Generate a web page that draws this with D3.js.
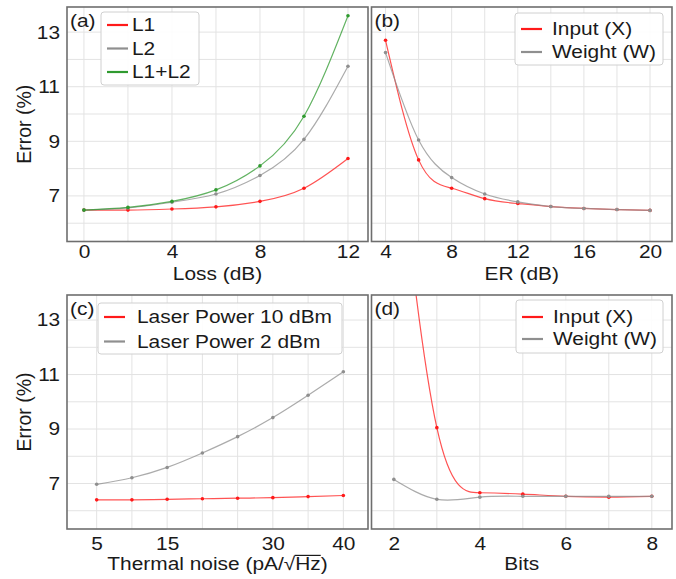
<!DOCTYPE html>
<html>
<head>
<meta charset="utf-8">
<script src="https://cdn.jsdelivr.net/npm/d3@7"></script>
<style>
  body { margin: 0; background: #fff; }
  text { font-family: "Liberation Sans", Arial, sans-serif; fill: #1a1a1a; }
</style>
</head>
<body>
<div id="chart"></div>
<script>
// (a) loss
const lossDb   = [0, 2, 4, 6, 8, 10, 12];
const lossL1   = [6.48, 6.48, 6.52, 6.60, 6.80, 7.28, 8.37];
const lossL2   = [6.48, 6.56, 6.77, 7.07, 7.75, 9.07, 11.75];
const lossL1L2 = [6.48, 6.58, 6.80, 7.22, 8.10, 9.92, 13.6];

// (b) extinction ratio
const erDb     = [4, 6, 8, 10, 12, 14, 16, 18, 20];
const erInput  = [12.7, 8.32, 7.28, 6.90, 6.72, 6.61, 6.54, 6.50, 6.47];
const erWeight = [12.25, 9.05, 7.67, 7.07, 6.78, 6.61, 6.54, 6.50, 6.47];

// (c) thermal noise
const noise    = [5, 10, 15, 20, 25, 30, 35, 40];
const noiseP10 = [6.40, 6.40, 6.42, 6.44, 6.46, 6.48, 6.52, 6.56];
const noiseP2  = [6.97, 7.21, 7.59, 8.12, 8.72, 9.42, 10.24, 11.1];

// (d) bits
const bits       = [2, 3, 4, 5, 6, 7, 8];
const bitsInput  = [21, 9.05, 6.66, 6.61, 6.53, 6.50, 6.53];
const bitsWeight = [7.15, 6.42, 6.50, 6.53, 6.53, 6.53, 6.53];

const lossTicks  = [0, 4, 8, 12];
const erTicks    = [4, 8, 12, 16, 20];
const noiseTicks = [5, 15, 30, 40];
const bitsTicks  = [2, 4, 6, 8];
const errorTicks = [7, 9, 11, 13];

const RED = "#ff1a1a", GRAY = "#8f8f8f", GREEN = "#2f9a2f";
const FS = "18.5px";   // font size
const SX = 1.13;       // the figure is a bit wider than tall

const svg = d3.select("#chart").append("svg")
  .attr("width", 676).attr("height", 579);

const yDomain = [5.33, 13.92];

// text stretched horizontally around its anchor point
function stext(parent, x, y, anchor) {
  return parent.append("g")
    .attr("transform", `translate(${x},${y}) scale(${SX},1)`)
    .append("text")
    .attr("text-anchor", anchor || "start")
    .style("font-size", FS);
}

function panel(cfg) {
  const x = d3.scaleLinear().domain(cfg.xDomain).range([cfg.left, cfg.right]);
  const y = d3.scaleLinear().domain(yDomain).range([cfg.bottom, cfg.top]);
  const g = svg.append("g");

  const clipId = "clip-" + cfg.tag;
  svg.append("clipPath").attr("id", clipId)
    .append("rect")
    .attr("x", cfg.left).attr("y", cfg.top)
    .attr("width", cfg.right - cfg.left).attr("height", cfg.bottom - cfg.top);

  // grid
  g.selectAll(".gx").data(cfg.xGrid).join("line")
    .attr("x1", d => x(d)).attr("x2", d => x(d))
    .attr("y1", cfg.top).attr("y2", cfg.bottom)
    .attr("stroke", "#e3e3e3").attr("stroke-width", 1);
  g.selectAll(".gy").data(d3.range(6, 14)).join("line")
    .attr("x1", cfg.left).attr("x2", cfg.right)
    .attr("y1", d => y(d)).attr("y2", d => y(d))
    .attr("stroke", "#e3e3e3").attr("stroke-width", 1);

  // x tick labels
  const xAxis = g.append("g")
    .attr("transform", `translate(0,${cfg.bottom})`)
    .call(d3.axisBottom(x).tickValues(cfg.xTicks).tickFormat(d3.format("d"))
      .tickSize(0).tickPadding(0));
  xAxis.select(".domain").remove();
  xAxis.selectAll("text")
    .attr("y", 0).attr("dy", 0)
    .attr("transform", `translate(0,${cfg.tickY - cfg.bottom}) scale(${SX},1)`)
    .style("font-size", FS).style("font-family", "Liberation Sans, Arial, sans-serif")
    .attr("fill", "#1a1a1a");

  // y tick labels
  if (cfg.yLabels) {
    const yAxis = g.append("g")
      .attr("transform", `translate(${cfg.left},0)`)
      .call(d3.axisLeft(y).tickValues(errorTicks).tickSize(0).tickPadding(0));
    yAxis.select(".domain").remove();
    yAxis.selectAll("text")
      .attr("x", 0)
      .attr("transform", `translate(-7,0) scale(${SX},1)`)
      .style("font-size", FS).style("font-family", "Liberation Sans, Arial, sans-serif")
      .attr("fill", "#1a1a1a");

    svg.append("text")
      .attr("transform", `translate(31,${(cfg.top + cfg.bottom) / 2}) rotate(-90)`)
      .attr("text-anchor", "middle")
      .style("font-size", "19.5px")
      .text("Error (%)");
  }

  // x axis label
  const xl = stext(svg, (cfg.left + cfg.right) / 2, cfg.labelY, "middle");
  cfg.xLabel(xl);

  // series
  const line = d3.line()
    .x(d => x(d[0]))
    .y(d => y(d[1]))
    .curve(d3.curveNatural);

  const plot = g.append("g").attr("clip-path", `url(#${clipId})`);
  cfg.series.forEach(s => {
    const pts = cfg.xs.map((v, i) => [v, s.values[i]]);
    plot.append("path")
      .datum(pts)
      .attr("fill", "none")
      .attr("stroke", s.color)
      .attr("stroke-opacity", 0.75)
      .attr("stroke-width", 1.2)
      .attr("d", line);
    plot.selectAll(null).data(pts).join("circle")
      .attr("cx", d => x(d[0])).attr("cy", d => y(d[1]))
      .attr("r", 1.8)
      .attr("fill", s.color);
  });

  // frame
  g.append("rect")
    .attr("x", cfg.left).attr("y", cfg.top)
    .attr("width", cfg.right - cfg.left).attr("height", cfg.bottom - cfg.top)
    .attr("fill", "none").attr("stroke", "#6e6e6e").attr("stroke-width", 1.6);

  // panel tag
  stext(svg, cfg.left + 3, cfg.top + 20).text(`(${cfg.tag})`);

  // legend
  const L = cfg.legend;
  const lg = svg.append("g");
  lg.append("rect")
    .attr("x", L.x).attr("y", L.y).attr("width", L.w).attr("height", L.h)
    .attr("rx", 3)
    .attr("fill", "#fff").attr("fill-opacity", 0.9)
    .attr("stroke", "#d0d0d0").attr("stroke-width", 1);
  cfg.series.forEach((s, i) => {
    const cy = L.y + L.first + i * L.step;
    lg.append("line")
      .attr("x1", L.x + 6).attr("x2", L.x + 27)
      .attr("y1", cy).attr("y2", cy)
      .attr("stroke", s.color).attr("stroke-width", 2.2);
    stext(lg, L.x + L.textX, cy)
      .attr("dy", "0.35em")
      .text(s.name);
  });
}

panel({
  tag: "a", left: 67, right: 368, top: 7, bottom: 241.5,
  xDomain: [-0.77, 12.91], xGrid: d3.range(0, 13, 2), xTicks: lossTicks,
  tickY: 258, labelY: 280, yLabels: true,
  xLabel: t => t.text("Loss (dB)"),
  xs: lossDb,
  series: [
    { name: "L1", color: RED, values: lossL1 },
    { name: "L2", color: GRAY, values: lossL2 },
    { name: "L1+L2", color: GREEN, values: lossL1L2 }
  ],
  legend: { x: 101, y: 12, w: 98, h: 73, first: 13, step: 23.5, textX: 31 }
});

panel({
  tag: "b", left: 371.5, right: 672, top: 7, bottom: 241.5,
  xDomain: [3.15, 21.33], xGrid: d3.range(4, 21, 2), xTicks: erTicks,
  tickY: 258, labelY: 280, yLabels: false,
  xLabel: t => t.text("ER (dB)"),
  xs: erDb,
  series: [
    { name: "Input (X)", color: RED, values: erInput },
    { name: "Weight (W)", color: GRAY, values: erWeight }
  ],
  legend: { x: 515, y: 13, w: 148, h: 52, first: 16, step: 23, textX: 37 }
});

panel({
  tag: "c", left: 67, right: 368, top: 295, bottom: 529,
  xDomain: [0.79, 43.5], xGrid: d3.range(5, 41, 5), xTicks: noiseTicks,
  tickY: 550, labelY: 570, yLabels: true,
  xLabel: t => {
    t.text("Thermal noise (pA/√Hz)");
    // vinculum of the square root over "Hz"
    const n = t.node();
    const i = n.textContent.indexOf("√");
    const x0 = n.getStartPositionOfChar(i + 1).x - 0.5;
    const x1 = n.getEndPositionOfChar(i + 2).x;
    d3.select(n.parentNode).append("line")
      .attr("x1", x0).attr("x2", x1)
      .attr("y1", -14.6).attr("y2", -14.6)
      .attr("stroke", "#1a1a1a").attr("stroke-width", 1.2);
  },
  xs: noise,
  series: [
    { name: "Laser Power 10 dBm", color: RED, values: noiseP10 },
    { name: "Laser Power 2 dBm", color: GRAY, values: noiseP2 }
  ],
  legend: { x: 98, y: 303, w: 244, h: 51, first: 14, step: 24.5, textX: 39 }
});

panel({
  tag: "d", left: 371.5, right: 672, top: 295, bottom: 529,
  xDomain: [1.48, 8.47], xGrid: d3.range(2, 9, 1), xTicks: bitsTicks,
  tickY: 550, labelY: 570, yLabels: false,
  xLabel: t => t.text("Bits"),
  xs: bits,
  series: [
    { name: "Input (X)", color: RED, values: bitsInput },
    { name: "Weight (W)", color: GRAY, values: bitsWeight }
  ],
  legend: { x: 516, y: 300, w: 147, h: 53, first: 17, step: 22, textX: 37 }
});
</script>
</body>
</html>
